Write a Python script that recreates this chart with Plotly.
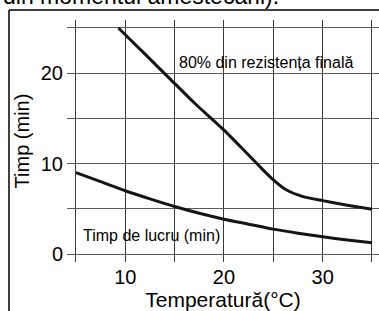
import plotly.graph_objects as go

# Data
temp_80 = [9.3, 12, 14.5, 17, 20, 22, 23.6, 24.8, 26.3, 28, 30, 32.5, 35]
time_80 = [25, 22.1, 19.4, 16.7, 13.7, 11.5, 9.7, 8.4, 7.1, 6.35, 5.9, 5.4, 4.95]

temp_work = [5, 7.5, 10, 12.5, 15, 17.5, 20, 22.5, 25, 27.5, 30, 32.5, 35]
time_work = [9.0, 8.0, 7.0, 6.1, 5.25, 4.5, 3.85, 3.3, 2.75, 2.3, 1.9, 1.55, 1.25]

x_tickvals = [5, 10, 15, 20, 25, 30, 35]
x_ticktext = ["", "10", "", "20", "", "30", ""]
y_tickvals = [0, 5, 10, 15, 20, 25]
y_ticktext = ["0", "", "10", "", "20", ""]

label_80 = "80% din rezistența finală"
label_work = "Timp de lucru (min)"
x_title = "Temperatură(°C)"
y_title = "Timp (min)"
top_text = "din momentul amestecării)."

W, H = 379, 311
ML, MR, MT, MB = 67, 0, 20, 49
PW, PH = W - ML - MR, H - MT - MB

def px_x(p):
    return (p - ML) / PW

def px_y(p):
    return 1 - (p - MT) / PH

font = "Liberation Sans, Arial, sans-serif"
line_col = "#151515"

fig = go.Figure()
fig.add_trace(go.Scatter(x=temp_80, y=time_80, mode="lines",
                         line=dict(color=line_col, width=3, shape="spline", smoothing=0.6),
                         hoverinfo="skip", showlegend=False))
fig.add_trace(go.Scatter(x=temp_work, y=time_work, mode="lines",
                         line=dict(color=line_col, width=3, shape="spline", smoothing=0.6),
                         hoverinfo="skip", showlegend=False))

fig.update_layout(
    width=W, height=H,
    margin=dict(l=ML, r=MR, t=MT, b=MB, pad=0),
    paper_bgcolor="white", plot_bgcolor="white",
    font=dict(family=font, color="black"),
    xaxis=dict(range=[4.09, 35.71], tickvals=x_tickvals, ticktext=x_ticktext,
               showgrid=True, gridcolor="#3a3a3a", gridwidth=1.4,
               zeroline=False, showline=False, ticks="",
               tickfont=dict(size=20, family=font), ticklabelstandoff=1,
               title=dict(text=x_title, font=dict(size=21, family=font), standoff=2)),
    yaxis=dict(range=[-0.885, 25.88], tickvals=y_tickvals, ticktext=y_ticktext,
               showgrid=True, gridcolor="#5a5a5a", gridwidth=1.4,
               zeroline=False, showline=False, ticks="",
               tickfont=dict(size=20, family=font), ticklabelstandoff=3,
               title=dict(text=y_title, font=dict(size=20, family=font), standoff=5)),
    annotations=[
        dict(x=px_x(177), y=20, xref="paper", yref="y", text=label_80,
             showarrow=False, xanchor="left", yanchor="bottom",
             font=dict(size=16, family=font, color="black")),
        dict(x=px_x(81), y=px_y(235), xref="paper", yref="paper", text=label_work,
             showarrow=False, xanchor="left", yanchor="middle",
             font=dict(size=16, family=font, color="black")),
        dict(x=px_x(1), y=px_y(11), xref="paper", yref="paper", text=top_text,
             showarrow=False, xanchor="left", yanchor="bottom",
             font=dict(size=23, family=font, color="black")),
    ],
    shapes=[
        dict(type="line", xref="paper", yref="paper", x0=px_x(9), x1=px_x(379),
             y0=px_y(10), y1=px_y(10), line=dict(color="black", width=1.5)),
        dict(type="line", xref="paper", yref="paper", x0=px_x(9), x1=px_x(9),
             y0=px_y(10), y1=px_y(311), line=dict(color="black", width=1.5)),
    ],
)

fig.write_html("out.html", config={"displayModeBar": False},
               post_script="document.body.style.margin='0px';document.body.style.overflow='hidden';")
